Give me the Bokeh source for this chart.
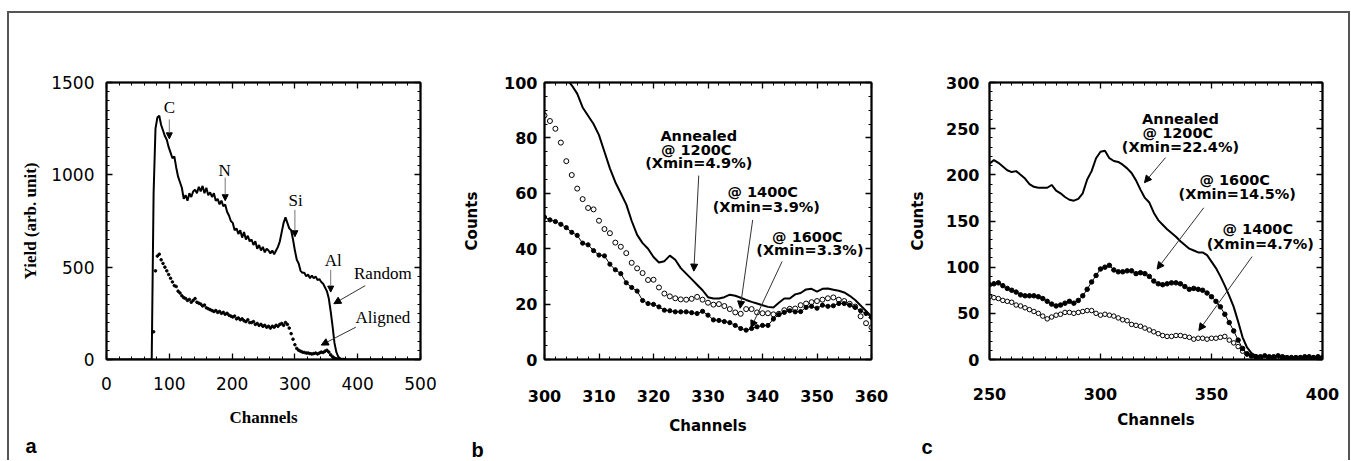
from bokeh.plotting import figure
from bokeh.layouts import row
from bokeh.models import (LinearAxis, SingleIntervalTicker, Label, Arrow, NormalHead,
                          CustomLabelingPolicy, Title)
from bokeh.embed import file_html
from bokeh.resources import INLINE

# ---------------- Panel a data (RBS yield vs channel) ----------------
a_random_start, a_random_step = 72, 3
a_random = [0, 900, 1250, 1310, 1320, 1270, 1240, 1210, 1190, 1150,
            1120, 1090, 1100, 1040, 990, 960, 930, 870, 890, 860,
            900, 880, 910, 920, 900, 935, 910, 940, 900, 930,
            890, 905, 880, 900, 860, 870, 840, 860, 830, 840,
            800, 780, 750, 740, 700, 710, 680, 700, 660, 690,
            650, 670, 640, 650, 620, 640, 600, 620, 590, 610,
            580, 600, 590, 575, 590, 570, 590, 610, 640, 690,
            740, 770, 740, 710, 700, 650, 590, 540, 520, 480,
            470, 470, 450, 460, 440, 455, 440, 450, 430, 435,
            420, 410, 390, 370, 330, 260, 180, 90, 40, 15,
            5, 2, 0]
a_aligned_start, a_aligned_step = 75, 3
a_aligned = [150, 480, 560, 570, 540, 520, 500, 480, 460, 440,
             420, 400, 395, 370, 360, 345, 335, 330, 320, 325,
             310, 320, 330, 310, 305, 300, 290, 295, 280, 275,
             270, 265, 260, 265, 255, 260, 250, 255, 245, 250,
             240, 235, 230, 235, 220, 225, 215, 220, 210, 205,
             215, 200, 200, 205, 190, 195, 185, 190, 180, 185,
             175, 180, 170, 180, 175, 185, 180, 190, 195, 185,
             200, 190, 170, 140, 110, 80, 60, 50, 45, 40,
             38, 35, 35, 32, 30, 32, 35, 30, 35, 40,
             38, 45, 50, 40, 25, 15, 8, 4, 2, 1,
             0, 0]

# ---------------- Panel b data ----------------
b_channels = list(range(300, 361))
b_1200 = [113, 110, 107, 104, 101.5, 99, 96, 91, 88, 85,
          81, 75, 69, 64, 60, 56, 50, 45, 42, 40,
          37, 35, 35.5, 37.5, 36, 33, 31, 29, 27, 25,
          22.5, 22, 22, 22.5, 23.4, 23, 22.3, 21.5, 20.8, 20.2,
          19.6, 19, 18.8, 20.5, 22, 22, 23.5, 24, 25.3, 25.5,
          24.5, 25.5, 25.6, 25.2, 24.8, 24.2, 23, 21.5, 19.5, 17.5,
          15.5]
b_1400 = [88.1, 86.1, 83.3, 78.3, 71.6, 66.6, 61.7, 57.9, 54.7, 54.2,
          50.1, 47.1, 45.6, 42.2, 40.7, 38.4, 34.9, 32.9, 31.2, 28.7,
          28.8, 26, 23.8, 22.8, 22.1, 21.7, 21.6, 21.9, 22.6, 21.6,
          20.5, 19.8, 20, 19.3, 18.2, 17, 16.5, 18.2, 18.2, 17,
          16.7, 16.7, 16.3, 16.5, 17.8, 18.3, 18.4, 19.6, 20.2, 20.7,
          21.1, 21.6, 22.1, 22.4, 21.6, 21.1, 20.1, 19.1, 15.6, 13.1,
          11.6]
b_1600 = [51.4, 50.4, 49.8, 48.8, 47.6, 45.9, 44.8, 42, 41.4, 39.3,
          37.7, 37.4, 34.4, 32.4, 31, 27.7, 26, 24.7, 21.3, 20.2,
          19.9, 19, 17.8, 17.6, 17.2, 17.2, 17.2, 16.9, 16.6, 17.4,
          16, 14.3, 14.1, 13.7, 13.3, 12.3, 11.2, 10.6, 11.2, 11.8,
          12.3, 12.3, 14.6, 16.2, 17, 17.6, 17.2, 17.3, 18.8, 19.2,
          18.5, 19.6, 19.2, 19.4, 20.2, 20.2, 19.6, 18.8, 17.6, 16.6,
          15.2]

# ---------------- Panel c data ----------------
c_start, c_step = 250, 2
c_1200 = [212, 216, 213, 209, 205, 203, 204, 200, 196, 190,
          187, 186, 186, 186, 189, 183, 180, 176, 173, 172,
          174, 180, 195, 204, 218, 225, 226, 218, 215, 214,
          211, 207, 202, 194, 184, 175, 170, 159, 151, 146,
          141, 137, 133, 128, 124, 120, 118, 116, 116, 113,
          106, 99, 90, 80, 69, 57, 41, 24, 13, 7,
          4, 3, 2, 2, 2, 2, 2, 2, 2, 2,
          2, 2, 2, 2, 2, 2]
c_1600 = [81, 82, 83, 80, 77, 75, 73, 70, 69, 69,
          69, 68, 66, 63, 60, 58, 59, 61, 63, 61,
          64, 69, 76, 84, 91, 98, 100, 102, 97, 95,
          95, 96, 96, 93, 94, 93, 90, 85, 82, 81,
          82, 83, 83, 82, 79, 76, 77, 76, 75, 72,
          68, 63, 57, 49, 40, 31, 21, 12, 6, 4,
          3, 3, 4, 3, 3, 4, 3, 2, 2, 2,
          2, 3, 3, 2, 3, 2]
c_1400 = [68, 67, 66, 64, 63, 62, 59, 58, 56, 54,
          52, 50, 47, 44, 46, 48, 49, 51, 51, 50,
          51, 52, 53, 53, 50, 48, 49, 48, 47, 45,
          43, 42, 38, 37, 36, 34, 32, 30, 28, 26,
          25, 25, 26, 26, 25, 24, 22, 23, 23, 22,
          23, 23, 24, 25, 21, 18, 14, 9, 6, 4,
          3, 2, 2, 2, 2, 2, 2, 2, 2, 2,
          2, 2, 2, 2, 2, 2]

panel_letters = ["a", "b", "c"]


def chan(start, step, vals):
    return [start + step * i for i in range(len(vals))]


def make_fig(w, h, xr, yr, l, r, t, b):
    p = figure(width=w, height=h, x_range=xr, y_range=yr,
               output_backend="svg", toolbar_location=None,
               min_border_left=l, min_border_right=r,
               min_border_top=t, min_border_bottom=b)
    p.xgrid.visible = False
    p.ygrid.visible = False
    p.outline_line_color = "black"
    p.outline_line_width = 1.5
    p.background_fill_color = "white"
    p.border_fill_color = "white"
    return p


NO_LABELS = "for (const i of indices) { if (false) { yield i } }"


def frame_axes(p, xi, xm, yi, ym, lw, major_len=6, minor_len=3):
    p.xaxis.ticker = SingleIntervalTicker(interval=xi, num_minor_ticks=xm)
    p.yaxis.ticker = SingleIntervalTicker(interval=yi, num_minor_ticks=ym)
    top = LinearAxis(ticker=SingleIntervalTicker(interval=xi, num_minor_ticks=xm),
                     major_label_policy=CustomLabelingPolicy(code=NO_LABELS),
                     major_label_standoff=0)
    right = LinearAxis(ticker=SingleIntervalTicker(interval=yi, num_minor_ticks=ym),
                       major_label_policy=CustomLabelingPolicy(code=NO_LABELS),
                       major_label_standoff=0)
    p.add_layout(top, "above")
    p.add_layout(right, "right")
    for ax in p.axis:
        ax.major_tick_in = major_len
        ax.major_tick_out = 0
        ax.minor_tick_in = minor_len
        ax.minor_tick_out = 0
        ax.axis_line_width = lw
        ax.axis_line_color = "black"
        ax.major_tick_line_width = 1.3
        ax.minor_tick_line_width = 1
        ax.major_tick_line_color = "black"
        ax.minor_tick_line_color = "black"
        ax.major_label_text_color = "black"
        ax.axis_label_text_color = "black"


def label(p, x, y, text, font, size, style="normal", align="center"):
    p.add_layout(Label(x=x, y=y, text=text, text_font=font, text_font_size=size,
                       text_font_style=style, text_align=align,
                       text_baseline="middle", text_color="black"))


def arrow(p, x0, y0, x1, y1, color="#333333", size=7):
    p.add_layout(Arrow(end=NormalHead(size=size, fill_color="black", line_color="black", line_width=1),
                       x_start=x0, y_start=y0, x_end=x1, y_end=y1,
                       line_color=color, line_width=1))


def panel_letter(p, text, offset, standoff):
    p.add_layout(Title(text=text, align="left", offset=offset, standoff=standoff,
                       text_font="Liberation Sans", text_font_size="20px",
                       text_font_style="bold", text_color="black"), "below")


SERIF = "Liberation Serif"
SANS = "DejaVu Sans"

# ======================= Panel a =======================
pa = make_fig(438, 447, (0, 500), (0, 1500), 97, 13, 69, 101)
frame_axes(pa, 100, 5, 500, 10, 2)
pa.line([0] + chan(a_random_start, a_random_step, a_random) + [500],
        [0] + a_random + [0], line_color="black", line_width=2)
pa.scatter(chan(a_aligned_start, a_aligned_step, a_aligned), a_aligned,
           size=2.6, color="black")
xa, ya = pa.below[0], pa.left[0]
for ax in (xa, ya):
    ax.major_label_text_font = SANS
    ax.major_label_text_font_size = "17px"
    ax.axis_label_text_font = SERIF
    ax.axis_label_text_font_size = "17px"
    ax.axis_label_text_font_style = "bold"
xa.axis_label = "Channels"
ya.axis_label = "Yield (arb. unit)"
xa.major_label_standoff = 17
xa.axis_label_standoff = 15
ya.major_label_standoff = 12
ya.axis_label_standoff = 8

for (x, y, t) in [(100, 1365, "C"), (188, 1023, "N"), (301, 860, "Si"),
                  (361, 536, "Al"), (440, 464, "Random"), (440, 229, "Aligned")]:
    label(pa, x, y, t, SERIF, "17px")
arrow(pa, 100, 1300, 100, 1195, "#777777", 6)
arrow(pa, 189, 985, 189, 860, "#777777", 6)
arrow(pa, 300, 810, 300, 665, "#777777", 6)
arrow(pa, 357, 485, 357, 365, "#777777", 6)
arrow(pa, 412, 400, 362, 302, "#333333", 7)
arrow(pa, 397, 175, 342, 78, "#333333", 7)
panel_letter(pa, panel_letters[0], -81, 6)

# ======================= Panel b =======================
pb = make_fig(445, 447, (300, 360), (0, 100), 97, 14, 18, 95)
frame_axes(pb, 10, 5, 20, 4, 2)
pb.line(b_channels, b_1200, line_color="black", line_width=2)
pb.scatter(b_channels, b_1400, size=5, marker="circle", fill_color="white",
           line_color="black", line_width=1)
pb.line(b_channels, b_1600, line_color="black", line_width=1)
pb.scatter(b_channels, b_1600, size=4.2, color="black")
xb, yb = pb.below[0], pb.left[0]
for ax in (xb, yb):
    ax.major_label_text_font = SANS
    ax.major_label_text_font_size = "16px"
    ax.major_label_text_font_style = "bold"
    ax.axis_label_text_font = SANS
    ax.axis_label_text_font_size = "15px"
    ax.axis_label_text_font_style = "bold"
xb.axis_label = "Channels"
yb.axis_label = "Counts"
xb.major_label_standoff = 30
xb.axis_label_standoff = 12
yb.major_label_standoff = 7
yb.axis_label_standoff = 20

for (x, y, t) in [(328.3, 80.8, "Annealed"), (328.3, 75.8, "@  1200C"), (328.3, 70.9, "(Xmin=4.9%)"),
                  (340.5, 60.4, "@  1400C"), (340.7, 54.9, "(Xmin=3.9%)"),
                  (348.7, 44.4, "@  1600C"), (348.7, 39.4, "(Xmin=3.3%)")]:
    label(pb, x, y, t, SANS, "14.5px", "bold")
arrow(pb, 328.3, 66.4, 327.4, 31.9)
arrow(pb, 338.2, 50.4, 335.9, 18.5)
arrow(pb, 343.6, 35.4, 337.9, 11.5)
panel_letter(pb, panel_letters[1], -73, -2)

# ======================= Panel c =======================
pc = make_fig(456, 447, (250, 400), (0, 300), 97, 26, 19, 97)
frame_axes(pc, 50, 10, 50, 5, 2)
cx = chan(c_start, c_step, c_1200)
pc.line(cx, c_1200, line_color="black", line_width=2)
pc.line(cx, c_1400, line_color="black", line_width=0.8)
pc.scatter(cx, c_1400, size=4.5, marker="circle", fill_color="white",
           line_color="black", line_width=1)
pc.line(cx, c_1600, line_color="black", line_width=1)
pc.scatter(cx, c_1600, size=4.5, color="black")
xc, yc = pc.below[0], pc.left[0]
for ax in (xc, yc):
    ax.major_label_text_font = SANS
    ax.major_label_text_font_size = "16px"
    ax.major_label_text_font_style = "bold"
    ax.axis_label_text_font = SANS
    ax.axis_label_text_font_size = "15px"
    ax.axis_label_text_font_style = "bold"
xc.axis_label = "Channels"
yc.axis_label = "Counts"
xc.major_label_standoff = 28
xc.axis_label_standoff = 8
yc.major_label_standoff = 10
yc.axis_label_standoff = 16

for (x, y, t) in [(336, 260, "Annealed"), (336, 245, "@  1200C"), (336, 230, "(Xmin=22.4%)"),
                  (361.6, 194.6, "@  1600C"), (361.6, 179.5, "(Xmin=14.5%)"),
                  (372, 141.1, "@  1400C"), (372, 125.1, "(Xmin=4.7%)")]:
    label(pc, x, y, t, SANS, "14.5px", "bold")
arrow(pc, 329.3, 218.7, 319.8, 191.5)
arrow(pc, 346.5, 164.3, 325.5, 97.9)
arrow(pc, 368.3, 111.5, 344.3, 31.4)
panel_letter(pc, panel_letters[2], -68, 4)

layout = row(pa, pb, pc, styles={"margin-top": "11px",
                                 "margin-left": "7px",
                                 "border-top": "2px solid #555555",
                                 "border-left": "2px solid #555555",
                                 "border-right": "2px solid #555555"})

open("out.html", "w").write(file_html(layout, INLINE))
